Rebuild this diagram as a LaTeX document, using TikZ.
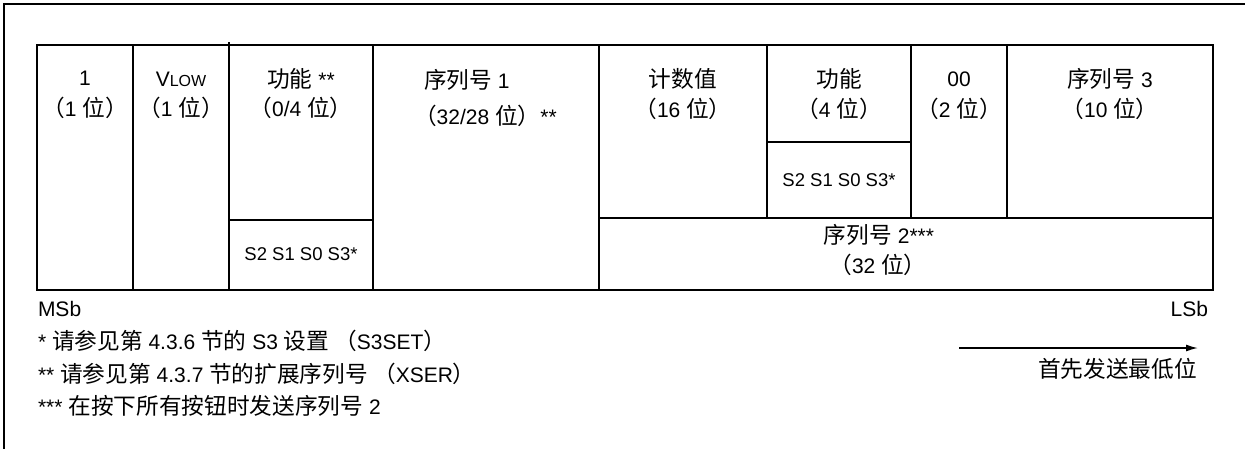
\documentclass[tikz,border=0pt]{standalone}
\usepackage{fontspec}
\setmainfont{Liberation Sans}
\newfontfamily\cjk[Scale=1.08]{Noto Sans CJK SC}
\newcommand{\zh}[1]{{\cjk #1}}
\usetikzlibrary{arrows.meta}
\begin{document}
\begin{tikzpicture}[x=1pt,y=-1pt,line width=2pt,
  lbl/.style={inner sep=0pt,font=\fontsize{21}{25}\selectfont},
  sml/.style={inner sep=0pt,font=\fontsize{18.5}{22}\selectfont},
  grid/.style={line width=2pt,line cap=rect}]
\useasboundingbox (0,0) rectangle (1245,448);
% outer frame (cut by the image edges)
\draw[grid] (4,450) -- (4,4) -- (1247,4);
% table
\draw[grid] (37,45) rectangle (1213,290);
\draw[grid] (133,45) -- (133,290);
\draw[grid] (229,43) -- (229,290);
\draw[grid] (373,45) -- (373,290);
\draw[line width=2.6pt] (599,45) -- (599,290);
\draw[grid] (767,45) -- (767,218);
\draw[grid] (911,45) -- (911,218);
\draw[grid] (1007,45) -- (1007,218);
\draw[grid] (229,220) -- (373,220);
\draw[grid] (599,218) -- (1213,218);
\draw[grid] (767,142) -- (911,142);
% cell texts
\node[lbl] (c1a) at (85,78) {1};
\node[lbl] (c1b) at (85,108) {\zh{（}1 \zh{位）}};
\node[lbl] (c2a) at (181,79) {V{\fontsize{16}{18}\selectfont LOW}};
\node[lbl] (c2b) at (181,108) {\zh{（}1 \zh{位）}};
\node[lbl] (c3a) at (301,79) {\zh{功能} **};
\node[lbl] (c3b) at (301,108) {\zh{（}0/4 \zh{位）}};
\node[sml] (c3c) at (301,254) {S2 S1 S0 S3*};
\node[lbl,anchor=west] (c4a) at (423,80) {\zh{序列号} 1};
\node[lbl,anchor=west] (c4b) at (413,116) {\zh{（}32/28 \zh{位）}**};
\node[lbl] (c5a) at (683,79) {\zh{计数值}};
\node[lbl] (c5b) at (683,109) {\zh{（}16 \zh{位）}};
\node[lbl] (c6a) at (839,79) {\zh{功能}};
\node[lbl] (c6b) at (839,109) {\zh{（}4 \zh{位）}};
\node[sml] (c6c) at (839,180) {S2 S1 S0 S3*};
\node[lbl] (c7a) at (959,79) {00};
\node[lbl] (c7b) at (959,109) {\zh{（}2 \zh{位）}};
\node[lbl] (c8a) at (1110,79) {\zh{序列号} 3};
\node[lbl] (c8b) at (1110,109) {\zh{（}10 \zh{位）}};
\node[lbl] (s2a) at (879,235) {\zh{序列号} 2***};
\node[lbl] (s2b) at (878,265) {\zh{（}32 \zh{位）}};
% below table
\node[lbl,anchor=west] (msb) at (37,309) {MSb};
\node[lbl,anchor=east] (lsb) at (1209,309) {LSb};
\node[lbl,anchor=west] (n1) at (37,341) {* \zh{请参见第} 4.3.6 \zh{节的} S3 \zh{设置 （}S3SET\zh{）}};
\node[lbl,anchor=west] (n2) at (37,374) {** \zh{请参见第} 4.3.7 \zh{节的扩展序列号 （}XSER\zh{）}};
\node[lbl,anchor=west] (n3) at (37,406) {*** \zh{在按下所有按钮时发送序列号} 2};
\coordinate (arS) at (959,348);
\coordinate (arE) at (1198,348);
\draw[line width=1.5pt,-{Latex[length=12pt,width=7pt]}] (arS) -- (arE);
\node[lbl,anchor=east] (first) at (1198,369) {\zh{首先发送最低位}};
\end{tikzpicture}
\end{document}
